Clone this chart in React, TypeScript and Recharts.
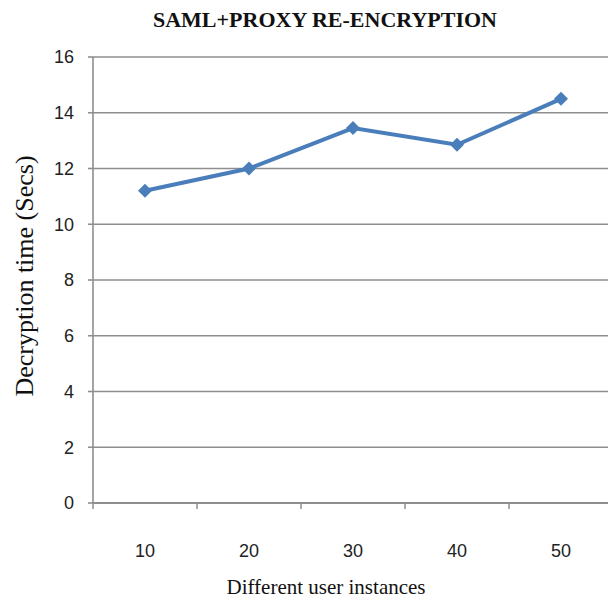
import React from "react";
import { LineChart, Line, XAxis, YAxis, CartesianGrid } from "recharts";

// values
const userInstances = ["10", "20", "30", "40", "50"];
const decryptionSecs = [11.2, 12.0, 13.45, 12.85, 14.5];
const yTicks = [0, 2, 4, 6, 8, 10, 12, 14, 16];
const categoryBounds = [0, 1, 2, 3, 4, 5];

const chartData = userInstances.map((users, i) => ({
  users,
  slot: i + 0.5,
  time: decryptionSecs[i],
}));

const LINE_COLOR = "#4a7ebb";
const GRID_COLOR = "#8e8e8e";
const serif = "'Liberation Serif', 'Times New Roman', serif";
const sans = "'Liberation Sans', Arial, sans-serif";

function Diamond(props: any) {
  const { cx, cy, index } = props;
  if (cx == null || cy == null) return null;
  const r = 7;
  return (
    <path
      key={`d-${index}`}
      d={`M${cx},${cy - r} L${cx + r},${cy} L${cx},${cy + r} L${cx - r},${cy} Z`}
      fill={LINE_COLOR}
      stroke="none"
    />
  );
}

export default function App() {
  return (
    <div
      style={{
        position: "absolute",
        left: 0,
        top: 0,
        width: 608,
        height: 610,
        overflow: "hidden",
        background: "#fff",
      }}
    >
      <div
        style={{
          position: "absolute",
          left: 0,
          width: 650,
          top: 7,
          textAlign: "center",
          fontFamily: serif,
          fontWeight: "bold",
          fontSize: 22,
          color: "#111",
        }}
      >
        SAML+PROXY RE-ENCRYPTION
      </div>

      <LineChart
        width={620}
        height={610}
        data={chartData}
        margin={{ top: 57, right: 7, left: 0, bottom: 0 }}
      >
        <CartesianGrid
          horizontal={true}
          vertical={false}
          stroke={GRID_COLOR}
          strokeWidth={1.6}
        />
        {/* tick marks on the category boundaries */}
        <XAxis
          xAxisId="bounds"
          dataKey="slot"
          type="number"
          domain={[0, 5]}
          ticks={categoryBounds}
          interval={0}
          allowDataOverflow
          height={1}
          axisLine={{ stroke: GRID_COLOR, strokeWidth: 2 }}
          tickLine={{ stroke: GRID_COLOR, strokeWidth: 1.5 }}
          tickSize={6}
          tickFormatter={() => ""}
        />
        <XAxis
          xAxisId="cat"
          dataKey="users"
          scale="band"
          height={106}
          axisLine={false}
          tickLine={false}
          tickSize={0}
          tickMargin={40}
          tick={{ fill: "#222", fontSize: 18, fontFamily: sans }}
        />
        <YAxis
          width={93}
          domain={[0, 16]}
          ticks={yTicks}
          interval={0}
          axisLine={{ stroke: GRID_COLOR, strokeWidth: 1.6 }}
          tickLine={{ stroke: GRID_COLOR, strokeWidth: 1.6 }}
          tickSize={5}
          tickMargin={14}
          tick={{ fill: "#222", fontSize: 18, fontFamily: sans }}
        />
        <Line
          xAxisId="cat"
          type="linear"
          dataKey="time"
          stroke={LINE_COLOR}
          strokeWidth={4}
          dot={Diamond}
          activeDot={false}
          isAnimationActive={false}
        />
      </LineChart>

      <div
        style={{
          position: "absolute",
          left: 25,
          top: 276,
          transform: "translate(-50%, -50%) rotate(-90deg)",
          whiteSpace: "nowrap",
          fontFamily: serif,
          fontSize: 26,
          color: "#111",
        }}
      >
        Decryption time (Secs)
      </div>

      <div
        style={{
          position: "absolute",
          left: 326,
          top: 587,
          transform: "translate(-50%, -50%)",
          whiteSpace: "nowrap",
          fontFamily: serif,
          fontSize: 21,
          color: "#111",
        }}
      >
        Different user instances
      </div>
    </div>
  );
}
